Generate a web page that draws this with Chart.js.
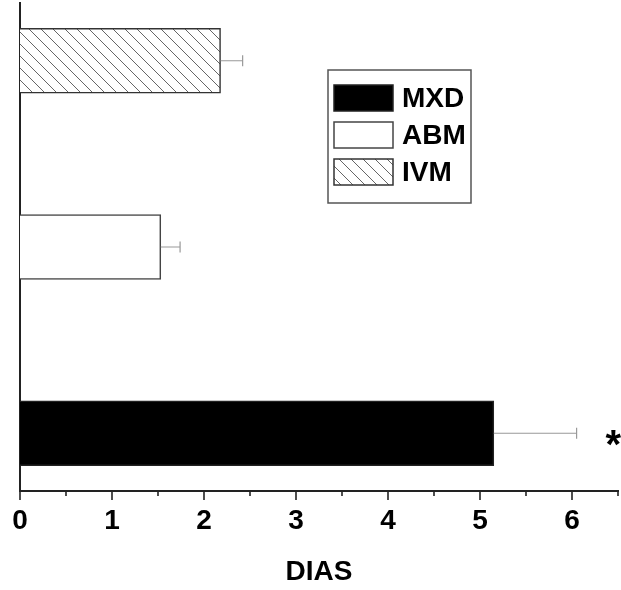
<!DOCTYPE html>
<html>
<head>
<meta charset="utf-8">
<script src="https://cdn.jsdelivr.net/npm/chart.js@4.4.1/dist/chart.umd.min.js"></script>
<style>
    body { margin: 0; background: #fff; }
    #wrap { width: 621px; height: 590px; }
</style>
</head>
<body>
<div id="wrap"><canvas id="diasChart" width="621" height="590"></canvas></div>
<script>
// Data
const categories = ['MXD', 'ABM', 'IVM'];
const meanDays = [5.15, 1.53, 2.18];
const errDays = [0.9, 0.21, 0.24];
const marks = ['*', '', ''];
const xTicks = [0, 1, 2, 3, 4, 5, 6];

// diagonal hatch for IVM
function makeHatch() {
    const c = document.createElement('canvas');
    c.width = 12;
    c.height = 12;
    const g = c.getContext('2d');
    g.fillStyle = '#fff';
    g.fillRect(0, 0, 12, 12);
    g.strokeStyle = '#666';
    g.lineWidth = 1;
    for (const k of [-12, 0, 12]) {
        g.beginPath();
        g.moveTo(k, 0);
        g.lineTo(k + 12, 12);
        g.stroke();
    }
    return g.createPattern(c, 'repeat');
}

const fills = ['#000', '#fff', makeHatch()];
const borders = ['#222', '#444', '#333'];

// error bars + asterisk
const errorBars = {
    id: 'errorBars',
    afterDatasetsDraw(chart) {
        const ctx = chart.ctx;
        const xs = chart.scales.x;
        ctx.save();
        chart.data.datasets.forEach((ds, i) => {
            const bar = chart.getDatasetMeta(i).data[0];
            if (!bar) return;
            const x0 = bar.x;
            const x1 = xs.getPixelForValue(meanDays[i] + errDays[i]);
            ctx.strokeStyle = '#999';
            ctx.lineWidth = 1.2;
            ctx.beginPath();
            ctx.moveTo(x0, bar.y);
            ctx.lineTo(x1, bar.y);
            ctx.moveTo(x1, bar.y - 5.5);
            ctx.lineTo(x1, bar.y + 5.5);
            ctx.stroke();
            if (marks[i]) {
                ctx.fillStyle = '#000';
                ctx.font = 'bold 40px "Liberation Sans", Arial, sans-serif';
                ctx.textAlign = 'left';
                ctx.textBaseline = 'alphabetic';
                ctx.fillText(marks[i], x1 + 29, bar.y + 25);
            }
        });
        ctx.restore();
    }
};

// major / minor tick marks under the x axis
const tickMarks = {
    id: 'tickMarks',
    afterDraw(chart) {
        const ctx = chart.ctx;
        const xs = chart.scales.x;
        const y = chart.chartArea.bottom;
        ctx.save();
        ctx.strokeStyle = '#222';
        ctx.lineWidth = 1.6;
        xs.ticks.forEach(t => {
            const px = Math.round(xs.getPixelForValue(t.value));
            const major = xTicks.includes(t.value);
            ctx.beginPath();
            ctx.moveTo(px, y);
            ctx.lineTo(px, y + (major ? 9 : 5));
            ctx.stroke();
        });
        ctx.restore();
    }
};

// boxed legend inside the plot
const boxLegend = {
    id: 'boxLegend',
    afterDraw(chart) {
        const ctx = chart.ctx;
        ctx.save();
        ctx.strokeStyle = '#555';
        ctx.lineWidth = 1.5;
        ctx.strokeRect(328, 70, 143, 133);
        ctx.font = 'bold 28px "Liberation Sans", Arial, sans-serif';
        ctx.textAlign = 'left';
        ctx.textBaseline = 'middle';
        chart.data.datasets.forEach((ds, i) => {
            const cy = 98 + i * 37;
            ctx.fillStyle = ds.backgroundColor;
            ctx.fillRect(334, cy - 13, 59, 26);
            ctx.strokeStyle = ds.borderColor;
            ctx.lineWidth = 1.5;
            ctx.strokeRect(334, cy - 13, 59, 26);
            ctx.fillStyle = '#000';
            ctx.fillText(ds.label, 402, cy + 1);
        });
        ctx.restore();
    }
};

new Chart(document.getElementById('diasChart'), {
    type: 'bar',
    data: {
        datasets: categories.map((name, i) => ({
            label: name,
            data: [{ x: meanDays[i], y: i + 1 }],
            backgroundColor: fills[i],
            borderColor: borders[i],
            borderWidth: 1.5,
            barThickness: 65,
            grouped: false
        }))
    },
    options: {
        indexAxis: 'y',
        responsive: false,
        animation: false,
        layout: { padding: { left: 20, right: 3, top: 3, bottom: 0 } },
        plugins: {
            legend: { display: false },
            tooltip: { enabled: false }
        },
        scales: {
            x: {
                type: 'linear',
                min: 0,
                max: 6.5,
                grid: { display: false, drawTicks: false },
                border: { display: true, color: '#222', width: 2 },
                afterFit: s => { s.paddingLeft = 0; s.paddingRight = 0; },
                ticks: {
                    stepSize: 0.5,
                    autoSkip: false,
                    maxRotation: 0,
                    padding: 16,
                    color: '#000',
                    font: { family: '"Liberation Sans", Arial, sans-serif', size: 28, weight: 'bold', lineHeight: 1 },
                    callback: v => xTicks.includes(v) ? String(v) : ''
                },
                title: {
                    display: true,
                    text: 'DIAS',
                    color: '#000',
                    font: { family: '"Liberation Sans", Arial, sans-serif', size: 28, weight: 'bold', lineHeight: 1 },
                    padding: { top: 7, bottom: 4 }
                }
            },
            y: {
                type: 'linear',
                min: 0.69,
                max: 3.31,
                offset: false,
                grid: { display: false, drawTicks: false, offset: false },
                border: { display: true, color: '#222', width: 2 },
                ticks: { display: false }
            }
        }
    },
    plugins: [errorBars, tickMarks, boxLegend]
});
</script>
</body>
</html>
